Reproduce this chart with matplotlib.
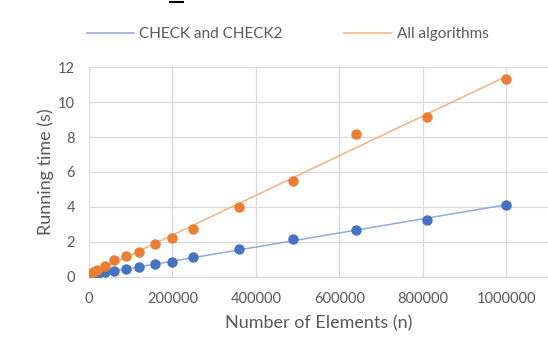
import numpy as np
import matplotlib
matplotlib.use("Agg")
import matplotlib.pyplot as plt
from matplotlib.lines import Line2D

n_elements = [1000, 10000, 20000, 38000, 60000, 88000, 120000, 158000, 200000,
              250000, 360000, 490000, 640000, 810000, 1000000]
check_times = [0.02, 0.06, 0.11, 0.25, 0.34, 0.44, 0.57, 0.73, 0.82,
               1.11, 1.59, 2.14, 2.69, 3.25, 4.11]
all_times = [0.08, 0.25, 0.35, 0.6, 0.96, 1.19, 1.4, 1.89, 2.23,
             2.71, 4.0, 5.5, 8.15, 9.17, 11.35]
series_names = ["CHECK and CHECK2", "All algorithms"]
x_ticks = [0, 200000, 400000, 600000, 800000, 1000000]
y_ticks = [0, 2, 4, 6, 8, 10, 12]

plt.rcParams['font.family'] = ['Lato', 'DejaVu Sans']
txt = '#595959'

fig = plt.figure(figsize=(5.48, 3.49), dpi=100)
ax = fig.add_axes([89/548, (349-276.5)/349, 1 - 89/548, (276.5-67.3)/349])

x = np.array(n_elements, dtype=float)
blue, orange = '#4472C4', '#ED7D31'
blue_l, orange_l = '#8FAADC', '#F4B183'
xx = np.array([0, 1000000])
for ys, c, cl in [(check_times, blue, blue_l), (all_times, orange, orange_l)]:
    p = np.polyfit(x, ys, 1)
    ax.plot(xx, np.polyval(p, xx), color=cl, lw=1.1, zorder=2)
    ax.plot(x, ys, 'o', color=c, ms=6.5, mec=c, zorder=3)

ax.set_xlim(0, 1.1e6)
ax.set_ylim(0, 12)
ax.set_xticks(x_ticks)
ax.set_xticklabels([str(t) for t in x_ticks])
ax.set_yticks(y_ticks)
ax.grid(True, color='#D9D9D9', lw=0.9)
ax.set_axisbelow(True)
for s in ['top', 'right', 'left']:
    ax.spines[s].set_visible(False)
ax.spines['bottom'].set_color('#D9D9D9')
ax.tick_params(length=0, colors=txt, labelsize=10.5)
ax.tick_params(axis='x', pad=11)
ax.tick_params(axis='y', pad=10)
ax.set_xlabel("Number of Elements (n)", color=txt, fontsize=13, labelpad=7)
ax.set_ylabel("Running time (s)", color=txt, fontsize=13, labelpad=3)

handles = [Line2D([], [], color=blue_l, lw=1.1), Line2D([], [], color=orange_l, lw=1.1)]
fig.legend(handles, series_names, loc='center', bbox_to_anchor=(0.525, 1 - 34/349),
           ncol=2, frameon=False, fontsize=11, labelcolor=txt, handlelength=3.1,
           columnspacing=4.0, handletextpad=0.35)

fig.add_artist(Line2D([170/548, 183/548], [1 - 1.5/349, 1 - 1.5/349], color='black', lw=1.5))

fig.savefig("out.png", dpi=100)
